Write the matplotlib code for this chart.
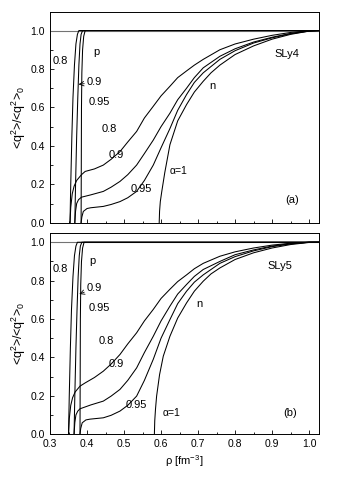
import numpy as np
import matplotlib.pyplot as plt
from matplotlib.ticker import MultipleLocator

plt.rcParams['font.family'] = ['Liberation Sans', 'DejaVu Sans']
plt.rcParams['mathtext.fontset'] = 'custom'
plt.rcParams['mathtext.rm'] = 'Liberation Sans'
plt.rcParams['mathtext.it'] = 'Liberation Sans'

# ---- SLy4 (panel a) ----
a_p08_rho = [0.354, 0.356, 0.359, 0.362, 0.366, 0.370, 0.374, 0.378, 1.03]
a_p08_val = [0.0, 0.2, 0.45, 0.65, 0.82, 0.93, 0.98, 1.0, 1.0]
a_p09_rho = [0.367, 0.369, 0.372, 0.375, 0.378, 0.381, 0.384, 0.388, 1.03]
a_p09_val = [0.0, 0.2, 0.45, 0.65, 0.82, 0.93, 0.98, 1.0, 1.0]
a_p095_rho = [0.384, 0.3845, 0.385, 0.386, 0.388, 0.391, 0.395, 1.03]
a_p095_val = [0.0, 0.3, 0.6, 0.78, 0.9, 0.97, 1.0, 1.0]

a_n08_rho = [0.354, 0.356, 0.360, 0.365, 0.372, 0.385, 0.395, 0.42, 0.444, 0.465, 0.489, 0.51,
             0.534, 0.555, 0.579, 0.60, 0.624, 0.645, 0.669, 0.69, 0.714, 0.759, 0.80, 0.85,
             0.90, 0.95, 1.0, 1.03]
a_n08_val = [0.0, 0.08, 0.15, 0.19, 0.22, 0.25, 0.267, 0.28, 0.30, 0.33, 0.37, 0.42,
             0.475, 0.545, 0.606, 0.66, 0.71, 0.755, 0.79, 0.82, 0.85, 0.90, 0.93, 0.955,
             0.975, 0.99, 0.999, 1.0]
a_n09_rho = [0.367, 0.369, 0.372, 0.377, 0.385, 0.41, 0.444, 0.465, 0.489, 0.51, 0.534, 0.555,
             0.579, 0.60, 0.624, 0.645, 0.669, 0.69, 0.714, 0.759, 0.80, 0.85, 0.90, 0.95,
             1.0, 1.03]
a_n09_val = [0.0, 0.06, 0.10, 0.12, 0.133, 0.145, 0.163, 0.185, 0.215, 0.25, 0.30, 0.36,
             0.43, 0.50, 0.57, 0.64, 0.70, 0.755, 0.806, 0.866, 0.905, 0.94, 0.965, 0.985,
             0.998, 1.0]
a_n095_rho = [0.384, 0.386, 0.39, 0.40, 0.41, 0.444, 0.465, 0.489, 0.51, 0.534, 0.555,
              0.579, 0.60, 0.624, 0.645, 0.669, 0.69, 0.714, 0.759, 0.80, 0.85, 0.90, 0.95,
              1.0, 1.03]
a_n095_val = [0.0, 0.03, 0.059, 0.074, 0.078, 0.085, 0.095, 0.11, 0.13, 0.163, 0.22,
              0.30, 0.39, 0.49, 0.585, 0.667, 0.73, 0.78, 0.85, 0.895, 0.935, 0.962, 0.983,
              0.997, 1.0]
a_n1_rho = [0.595, 0.596, 0.598, 0.602, 0.61, 0.624, 0.645, 0.669, 0.69, 0.714, 0.735, 0.759,
            0.80, 0.85, 0.90, 0.95, 1.0, 1.03]
a_n1_val = [0.0, 0.06, 0.11, 0.163, 0.26, 0.406, 0.53, 0.615, 0.68, 0.736, 0.78, 0.82,
            0.875, 0.92, 0.955, 0.98, 0.997, 1.0]

# ---- SLy5 (panel b) ----
b_p08_rho = [0.350, 0.352, 0.355, 0.358, 0.362, 0.366, 0.370, 0.374, 1.03]
b_p08_val = [0.0, 0.2, 0.45, 0.65, 0.82, 0.93, 0.98, 1.0, 1.0]
b_p09_rho = [0.365, 0.367, 0.370, 0.373, 0.376, 0.379, 0.382, 0.386, 1.03]
b_p09_val = [0.0, 0.2, 0.45, 0.65, 0.82, 0.93, 0.98, 1.0, 1.0]
b_p095_rho = [0.381, 0.3815, 0.382, 0.383, 0.385, 0.388, 0.392, 1.03]
b_p095_val = [0.0, 0.3, 0.6, 0.78, 0.9, 0.97, 1.0, 1.0]

b_n08_rho = [0.350, 0.352, 0.356, 0.361, 0.368, 0.381, 0.395, 0.42, 0.444, 0.465, 0.489, 0.51,
             0.534, 0.555, 0.579, 0.60, 0.624, 0.645, 0.669, 0.69, 0.714, 0.759, 0.80, 0.85,
             0.90, 0.95, 1.0, 1.03]
b_n08_val = [0.0, 0.08, 0.15, 0.19, 0.22, 0.25, 0.267, 0.295, 0.328, 0.365, 0.415, 0.47,
             0.528, 0.59, 0.65, 0.707, 0.755, 0.795, 0.83, 0.862, 0.89, 0.927, 0.95, 0.97,
             0.985, 0.995, 1.0, 1.0]
b_n09_rho = [0.365, 0.367, 0.370, 0.375, 0.381, 0.41, 0.444, 0.465, 0.489, 0.51, 0.534, 0.555,
             0.579, 0.60, 0.624, 0.645, 0.669, 0.69, 0.714, 0.759, 0.80, 0.85, 0.90, 0.95,
             1.0, 1.03]
b_n09_val = [0.0, 0.06, 0.10, 0.12, 0.132, 0.152, 0.172, 0.198, 0.233, 0.28, 0.345, 0.425,
             0.51, 0.59, 0.667, 0.73, 0.78, 0.822, 0.858, 0.90, 0.935, 0.96, 0.98, 0.993,
             1.0, 1.0]
b_n095_rho = [0.381, 0.383, 0.387, 0.397, 0.408, 0.444, 0.465, 0.489, 0.51, 0.534, 0.555,
              0.579, 0.60, 0.624, 0.645, 0.669, 0.69, 0.714, 0.759, 0.80, 0.85, 0.90, 0.95,
              1.0, 1.03]
b_n095_val = [0.0, 0.03, 0.059, 0.074, 0.078, 0.085, 0.098, 0.12, 0.15, 0.198, 0.28,
              0.39, 0.50, 0.597, 0.68, 0.745, 0.792, 0.83, 0.89, 0.925, 0.955, 0.977, 0.991,
              1.0, 1.0]
b_n1_rho = [0.582, 0.583, 0.585, 0.588, 0.596, 0.606, 0.624, 0.645, 0.669, 0.69, 0.714, 0.735,
            0.759, 0.80, 0.85, 0.90, 0.95, 1.0, 1.03]
b_n1_val = [0.0, 0.07, 0.13, 0.198, 0.31, 0.406, 0.51, 0.605, 0.684, 0.745, 0.797, 0.835,
            0.866, 0.91, 0.945, 0.97, 0.988, 0.999, 1.0]

panels = [
    dict(curves=[(a_p08_rho, a_p08_val), (a_p09_rho, a_p09_val), (a_p095_rho, a_p095_val),
                 (a_n08_rho, a_n08_val), (a_n09_rho, a_n09_val), (a_n095_rho, a_n095_val),
                 (a_n1_rho, a_n1_val)],
         ytop=1.097, name='SLy4', tag='(a)',
         labels=[('0.8', 0.327, 0.84), ('p', 0.426, 0.89), ('0.95', 0.432, 0.63),
                 ('0.8', 0.461, 0.49), ('0.9', 0.478, 0.35), ('0.95', 0.548, 0.175),
                 ('n', 0.74, 0.71)],
         arrow=(0.40, 0.73, 0.377, 0.72), alpha=(0.624, 0.27),
         name_xy=(0.94, 0.88), tag_xy=(0.953, 0.12)),
    dict(curves=[(b_p08_rho, b_p08_val), (b_p09_rho, b_p09_val), (b_p095_rho, b_p095_val),
                 (b_n08_rho, b_n08_val), (b_n09_rho, b_n09_val), (b_n095_rho, b_n095_val),
                 (b_n1_rho, b_n1_val)],
         ytop=1.05, name='SLy5', tag='(b)',
         labels=[('0.8', 0.327, 0.858), ('p', 0.415, 0.90), ('0.95', 0.432, 0.655),
                 ('0.8', 0.453, 0.486), ('0.9', 0.478, 0.368), ('0.95', 0.532, 0.151),
                 ('n', 0.704, 0.68)],
         arrow=(0.40, 0.76, 0.379, 0.73), alpha=(0.603, 0.111),
         name_xy=(0.922, 0.875), tag_xy=(0.949, 0.108)),
]

fig = plt.figure(figsize=(3.38, 4.95), dpi=100)
ax_a = fig.add_axes([0.148, 0.550, 0.796, 0.426])
ax_b = fig.add_axes([0.148, 0.123, 0.796, 0.407])
fs = 8

for ax, pan in zip([ax_a, ax_b], panels):
    ax.axhline(1.0, color='0.45', linewidth=0.8)
    for rho, val in pan['curves']:
        ax.plot(rho, val, color='k', linewidth=0.75)
    for txt, x, y in pan['labels']:
        ax.text(x, y, txt, fontsize=fs, ha='center', va='center')
    tx, ty, px, py = pan['arrow']
    ax.annotate('0.9', xy=(px, py), xytext=(tx, ty), fontsize=fs, ha='left', va='center',
                arrowprops=dict(arrowstyle='->', linewidth=0.6, shrinkA=0, shrinkB=0))
    ax.text(pan['alpha'][0], pan['alpha'][1], 'α=1', fontsize=fs - 0.5,
            ha='left', va='center')
    ax.text(*pan['name_xy'], pan['name'], fontsize=fs, ha='center', va='center')
    ax.text(*pan['tag_xy'], pan['tag'], fontsize=fs, ha='center', va='center')

    ax.set_xlim(0.3, 1.027)
    ax.set_ylim(0.0, pan['ytop'])
    ax.xaxis.set_major_locator(MultipleLocator(0.1))
    ax.xaxis.set_minor_locator(MultipleLocator(0.05))
    ax.yaxis.set_major_locator(MultipleLocator(0.2))
    ax.yaxis.set_minor_locator(MultipleLocator(0.1))
    ax.tick_params(which='both', direction='in', top=False, right=False, labelsize=fs - 0.5,
                   width=0.6)
    ax.tick_params(which='major', length=3)
    ax.tick_params(which='minor', length=1.8)
    for s in ax.spines.values():
        s.set_linewidth(0.7)
    ax.set_ylabel(r'<q$^2$>/<q$^2$>$_0$', fontsize=fs + 1, labelpad=2)
    ax.yaxis.set_major_formatter(plt.FuncFormatter(lambda v, p: f'{v:.1f}'))
    ax.xaxis.set_major_formatter(plt.FuncFormatter(lambda v, p: f'{v:.1f}'))

ax_a.tick_params(labelbottom=False)
ax_b.set_xlabel(r'ρ [fm$^{-3}$]', fontsize=fs, labelpad=3)

fig.savefig('out.png', dpi=100)
